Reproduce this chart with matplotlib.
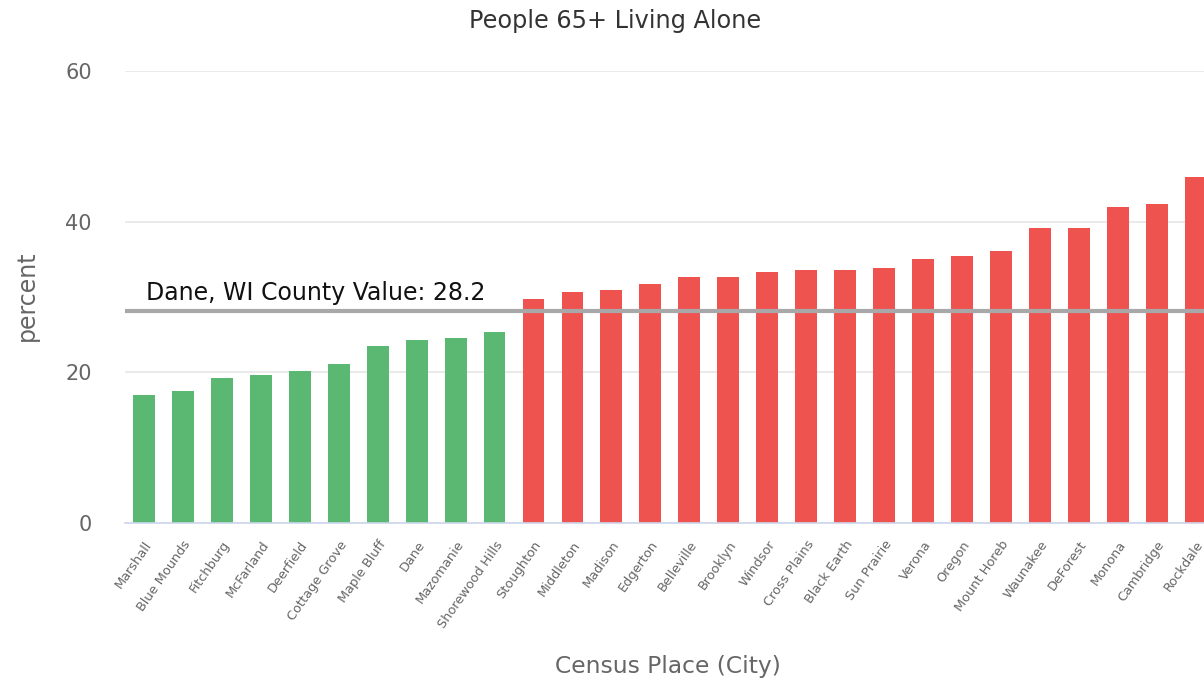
import matplotlib
matplotlib.use("Agg")
import matplotlib.pyplot as plt

cities = ["Marshall", "Blue Mounds", "Fitchburg", "McFarland", "Deerfield",
          "Cottage Grove", "Maple Bluff", "Dane", "Mazomanie", "Shorewood Hills",
          "Stoughton", "Middleton", "Madison", "Edgerton", "Belleville",
          "Brooklyn", "Windsor", "Cross Plains", "Black Earth", "Sun Prairie",
          "Verona", "Oregon", "Mount Horeb", "Waunakee", "DeForest",
          "Monona", "Cambridge", "Rockdale"]
values = [17.0, 17.5, 19.3, 19.6, 20.2, 21.1, 23.5, 24.3, 24.6, 25.4,
          29.8, 30.6, 30.9, 31.7, 32.6, 32.6, 33.3, 33.6, 33.6, 33.9,
          35.0, 35.5, 36.1, 39.1, 39.1, 41.9, 42.4, 45.9]
county_value = 28.2
county_label = "Dane, WI County Value: 28.2"
yticks = [0, 20, 40, 60]

GREEN = "#5bb873"
RED = "#ef5350"

plt.rcParams['font.family'] = ['DejaVu Sans']
fig = plt.figure(figsize=(12.04, 6.83), dpi=100)
W, H = 1204, 683
step = 38.95
left_px = 144 - step / 2
right_px = left_px + step * len(cities)
top_px, bot_px = 71, 523
ax = fig.add_axes([left_px / W, 1 - bot_px / H, (right_px - left_px) / W, (bot_px - top_px) / H])

x = list(range(len(cities)))
colors = [GREEN if v < county_value else RED for v in values]
ax.bar(x, values, width=0.56, color=colors, zorder=2)
ax.set_xlim(-0.5, len(cities) - 0.5)
ax.set_ylim(0, 60)
ax.set_yticks(yticks)
ax.set_yticklabels([str(t) for t in yticks], fontsize=15, color="#666666")
ax.grid(axis="y", color="#e6e6e6", linewidth=1.2, zorder=0)
ax.set_axisbelow(True)
for s in ["top", "right", "left"]:
    ax.spines[s].set_visible(False)
ax.spines["bottom"].set_color("#ccd6eb")
ax.spines["bottom"].set_linewidth(1.2)
ax.tick_params(axis="y", length=0, pad=23.5)
ax.tick_params(axis="x", length=0, pad=11)

ax.set_xticks(x)
ax.set_xticklabels(cities, rotation=55, ha="right", rotation_mode="anchor",
                   fontsize=9.3, color="#666666")

ax.axhline(county_value, color="#a8a8a8", linewidth=3, zorder=3)
ax.text(0.05, county_value + 0.8, county_label, fontsize=17, color="#111111",
        ha="left", va="bottom", zorder=4)

fig.text(615 / W, 1 - 21 / H, "People 65+ Living Alone", ha="center", va="center",
         fontsize=17.3, color="#333333")
fig.text(27 / W, 1 - 296 / H, "percent", rotation=90, ha="center", va="center",
         fontsize=17, color="#666666")
fig.text(668 / W, 1 - 667 / H, "Census Place (City)", ha="center", va="center",
         fontsize=16.8, color="#666666")

fig.savefig("out.png", dpi=100)
